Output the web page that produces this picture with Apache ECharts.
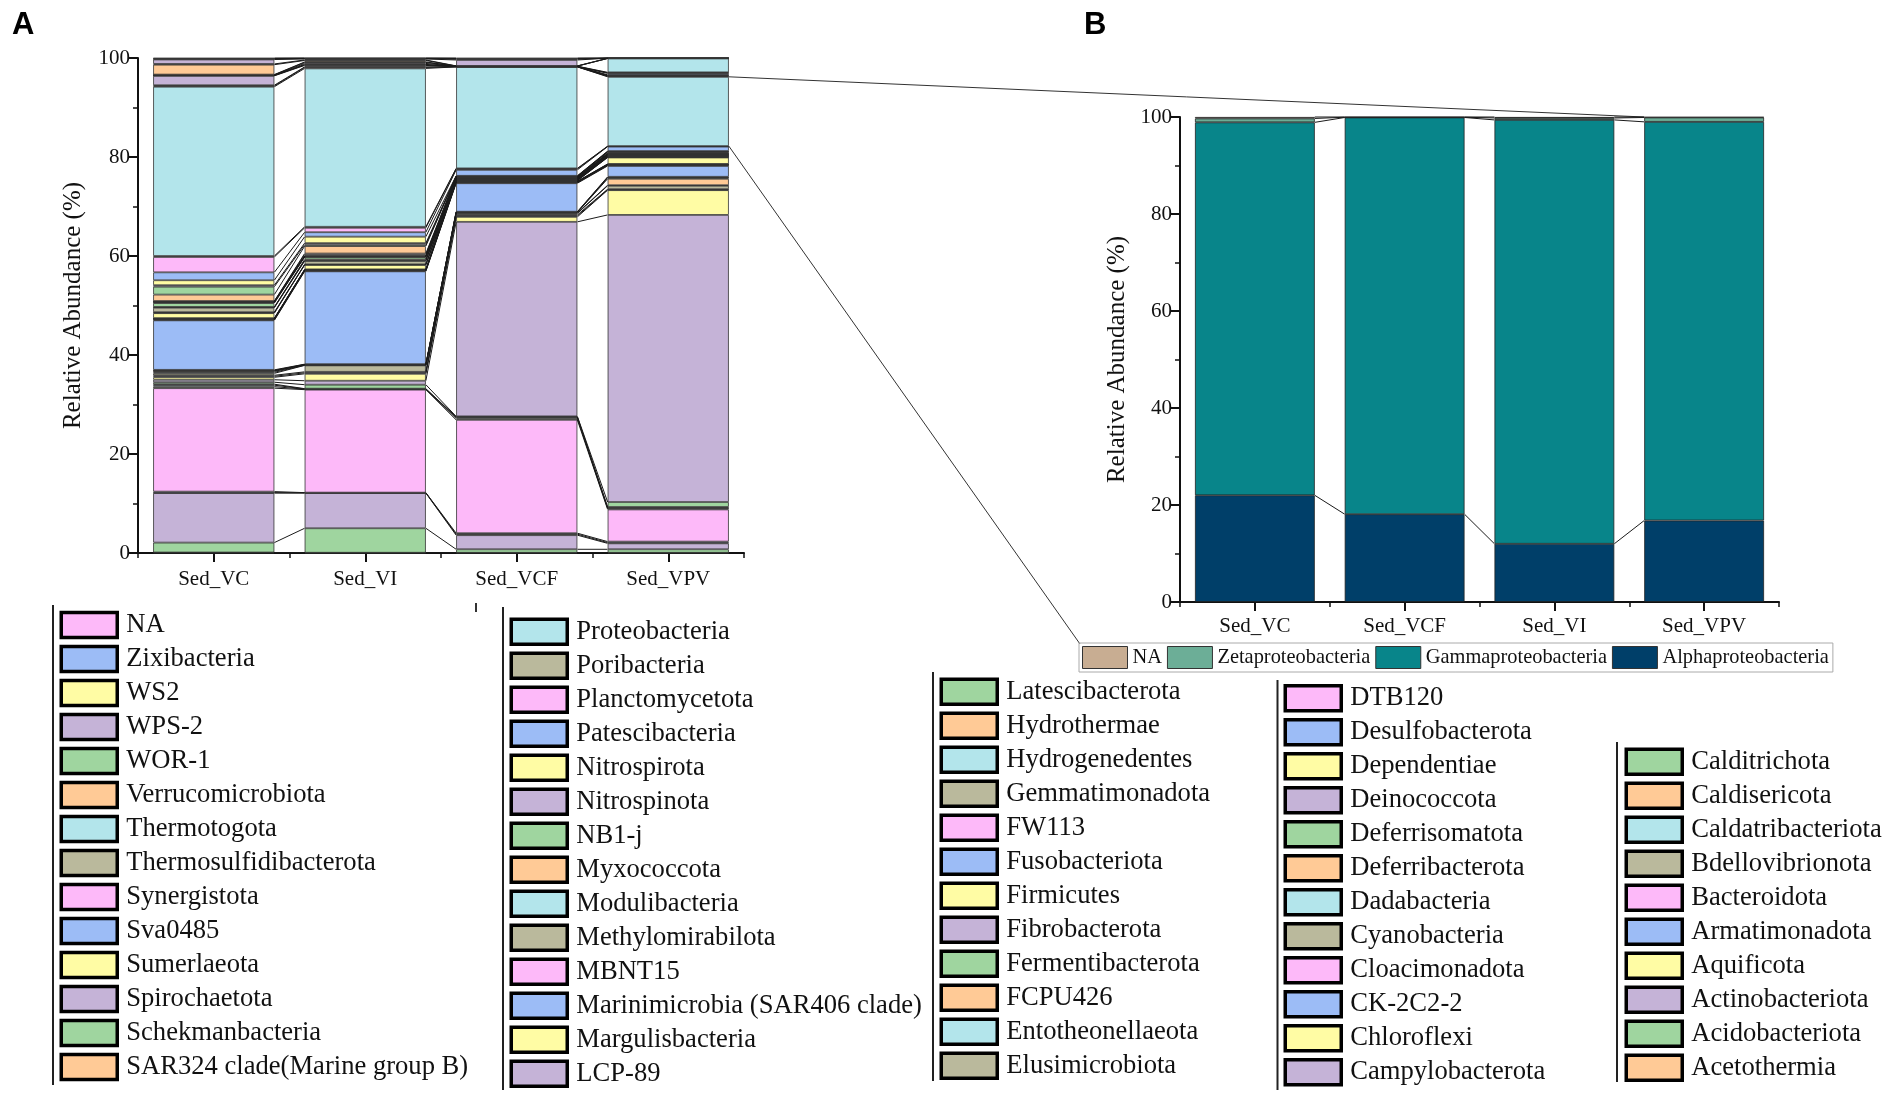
<!DOCTYPE html>
<html><head><meta charset="utf-8">
<script src="https://cdn.jsdelivr.net/npm/echarts@6/dist/echarts.min.js"></script>
<style>html,body{margin:0;padding:0;background:#fff}#c{width:1901px;height:1097px}</style>
</head><body><div id="c"></div>
<script>
// ---------- Panel A data (phyla, stacked bottom -> top) ----------
const categoriesA = ['Sed_VC', 'Sed_VI', 'Sed_VCF', 'Sed_VPV'];
const phyla = ['Acetothermia','Acidobacteriota','Actinobacteriota','Aquificota','Armatimonadota','Bacteroidota',
 'Bdellovibrionota','Caldatribacteriota','Caldisericota','Calditrichota','Campylobacterota','Chloroflexi','CK-2C2-2',
 'Cloacimonadota','Cyanobacteria','Dadabacteria','Deferribacterota','Deferrisomatota','Deinococcota','Dependentiae',
 'Desulfobacterota','DTB120','Elusimicrobiota','Entotheonellaeota','FCPU426','Fermentibacterota','Fibrobacterota',
 'Firmicutes','Fusobacteriota','FW113','Gemmatimonadota','Hydrogenedentes','Hydrothermae','Latescibacterota','LCP-89',
 'Margulisbacteria','Marinimicrobia (SAR406 clade)','MBNT15','Methylomirabilota','Modulibacteria','Myxococcota','NB1-j',
 'Nitrospinota','Nitrospirota','Patescibacteria','Planctomycetota','Poribacteria','Proteobacteria',
 'SAR324 clade(Marine group B)','Schekmanbacteria','Spirochaetota','Sumerlaeota','Sva0485','Synergistota',
 'Thermosulfidibacterota','Thermotogota','Verrucomicrobiota','WOR-1','WPS-2','WS2','Zixibacteria','NA'];
const valsVC = [0.1,2.0,10.0,0.1,0.2,20.9,0.3,0.3,0.2,0.4,0.5,0.5,0.2,0.2,0.4,0.2,0.2,0.1,0.1,0.1,
 10.0,0.1,0.1,0.1,0.05,0.05,0.05,1.0,0.1,0.1,0.9,0.1,0.05,0.8,0.1,0.1,0.05,0.05,0.05,0.05,
 1.3,1.6,0.3,1.0,1.6,3.1,0.2,34.2,0.15,0.15,1.9,0.05,0.05,0.05,0.05,0.05,2.0,0.15,0.9,0.1,0.1,0.1];
const valsVI = [0.05,4.95,7.1,0.05,0.05,20.8,0.1,0.05,0.05,0.8,0.8,1.4,0.2,0.2,1.3,0.05,0.05,0.05,0.05,0.05,
 18.75,0.1,0.1,0.05,0.05,0.05,0.05,0.9,0.05,0.05,0.7,0.1,0.2,0.5,0.05,0.05,0.05,0.05,0.3,0.2,
 1.5,0.3,0.3,1.3,0.9,0.9,0.2,32.0,0.2,0.1,0.3,0.1,0.1,0.2,0.2,0.1,0.3,0.1,0.2,0.1,0.05,0.05];
const valsVCF = [0.05,0.7,2.85,0.2,0.2,22.9,0.3,0.2,0.1,0.1,39.3,1.0,0.2,0.2,0.3,0.1,0.1,0.05,0.05,0.05,
 5.75,0.1,0.1,0.05,0.05,0.05,0.05,0.1,0.05,0.05,0.1,0.05,0.05,0.1,0.05,0.05,0.1,0.05,0.05,0.05,
 0.1,0.05,0.05,0.05,1.2,0.2,0.1,20.5,0.02,0.02,0.02,0.02,0.02,0.02,0.02,0.02,0.02,0.02,1.2,0.15,0.15,0.1];
const valsVPV = [0.05,0.7,1.2,0.15,0.2,6.5,0.2,0.1,0.2,1.0,58.0,5.0,0.1,0.1,0.7,0.1,1.3,0.2,0.1,0.1,
 2.2,0.1,0.1,0.05,0.05,0.05,0.05,1.3,0.05,0.05,0.1,0.05,0.1,0.1,0.05,0.05,0.1,0.05,0.1,0.05,
 0.2,0.1,0.05,0.1,0.9,0.05,0.05,14.0,0.1,0.1,0.1,0.1,0.3,0.1,0.1,2.8,0.02,0.02,0.02,0.02,0.01,0.01];

// Legend columns of panel A (as printed)
const legendCol1 = ['NA','Zixibacteria','WS2','WPS-2','WOR-1','Verrucomicrobiota','Thermotogota','Thermosulfidibacterota',
 'Synergistota','Sva0485','Sumerlaeota','Spirochaetota','Schekmanbacteria','SAR324 clade(Marine group B)'];
const legendCol2 = ['Proteobacteria','Poribacteria','Planctomycetota','Patescibacteria','Nitrospirota','Nitrospinota','NB1-j',
 'Myxococcota','Modulibacteria','Methylomirabilota','MBNT15','Marinimicrobia (SAR406 clade)','Margulisbacteria','LCP-89'];
const legendCol3 = ['Latescibacterota','Hydrothermae','Hydrogenedentes','Gemmatimonadota','FW113','Fusobacteriota','Firmicutes',
 'Fibrobacterota','Fermentibacterota','FCPU426','Entotheonellaeota','Elusimicrobiota'];
const legendCol4 = ['DTB120','Desulfobacterota','Dependentiae','Deinococcota','Deferrisomatota','Deferribacterota','Dadabacteria',
 'Cyanobacteria','Cloacimonadota','CK-2C2-2','Chloroflexi','Campylobacterota'];
const legendCol5 = ['Calditrichota','Caldisericota','Caldatribacteriota','Bdellovibrionota','Bacteroidota','Armatimonadota',
 'Aquificota','Actinobacteriota','Acidobacteriota','Acetothermia'];

// ---------- Panel B data (Proteobacteria classes) ----------
const categoriesB = ['Sed_VC', 'Sed_VCF', 'Sed_VI', 'Sed_VPV'];
const classesB = ['Alphaproteobacteria', 'Gammaproteobacteria', 'Zetaproteobacteria', 'NA'];
const alphaB = [22.0, 18.1, 12.0, 16.8];
const gammaB = [76.9, 81.8, 87.4, 82.2];
const zetaB = [0.8, 0.05, 0.4, 0.9];
const naB = [0.3, 0.05, 0.2, 0.1];

// ---------- styles ----------
const paletteA = ['#FDB9F9', '#9CBCF6', '#FFFCA4', '#C5B3D7', '#9FD59F', '#FFCA96', '#B3E5EB', '#BAB99C'];
const colorsB = ['#003F69', '#08858A', '#6CAE97', '#C8AD92'];
const SERIF = 'Liberation Serif';

const samplesA = [valsVC, valsVI, valsVCF, valsVPV];
const levelValsA = phyla.map((n, k) => samplesA.map(s => s[k]));
const levelValsB = [alphaB, gammaB, zetaB, naB];

function cumulative(levels) {
  const n = levels[0].length; let run = new Array(n).fill(0); const out = [];
  levels.forEach(v => { run = run.map((r, i) => r + v[i]); out.push(run.slice()); });
  return out;
}
const cumA = cumulative(levelValsA);
const cumB = cumulative(levelValsB);

function connector(cum) {
  return function (params, api) {
    const i = api.value(0);
    const hw = api.size([1, 0])[0] * 0.4;
    const children = cum.map(c => {
      const p1 = api.coord([i, c[i]]), p2 = api.coord([i + 1, c[i + 1]]);
      return { type: 'line', shape: { x1: p1[0] + hw, y1: p1[1], x2: p2[0] - hw, y2: p2[1] },
        style: { stroke: '#1a1a1a', lineWidth: 1 } };
    });
    return { type: 'group', children };
  };
}

function yAxisCfg(gridIndex, nameGap) {
  return {
    type: 'value', gridIndex, min: 0, max: 100, interval: 20,
    name: 'Relative Abundance (%)', nameLocation: 'middle', nameGap,
    nameTextStyle: { fontFamily: SERIF, fontSize: 25, color: '#111' },
    axisLine: { show: true, lineStyle: { color: '#111', width: 2 } },
    axisTick: { show: true, length: 9, lineStyle: { color: '#111', width: 2 } },
    minorTick: { show: true, splitNumber: 2, length: 5, lineStyle: { color: '#111', width: 1.5 } },
    splitLine: { show: false },
    axisLabel: { fontFamily: SERIF, fontSize: 21, color: '#111', margin: 8 }
  };
}
function xAxisCfg(gridIndex, data, margin) {
  return {
    type: 'category', gridIndex, data, position: 'bottom',
    axisLine: { show: true, lineStyle: { color: '#111', width: 2 } },
    axisTick: { show: true, alignWithLabel: true, length: 9, lineStyle: { color: '#111', width: 2 } },
    axisLabel: { fontFamily: SERIF, fontSize: 21, color: '#111', margin }
  };
}
function xMinorCfg(gridIndex, data) {
  return {
    type: 'category', gridIndex, data, position: 'bottom', boundaryGap: true,
    axisLine: { show: false },
    axisTick: { show: true, interval: 0, length: 5, lineStyle: { color: '#111', width: 1.5 } },
    axisLabel: { show: false }
  };
}
function legendCol(names, left, top) {
  return {
    data: names, orient: 'vertical', left, top, height: 560, padding: 0, icon: 'rect', selectedMode: false,
    itemWidth: 56, itemHeight: 25, itemGap: 5.5,
    itemStyle: { borderColor: '#000', borderWidth: 3.5 },
    textStyle: { fontFamily: SERIF, fontSize: 26.6, color: '#111', lineHeight: 24, padding: [0, 0, 0, 4] }
  };
}

const series = [];
phyla.forEach((name, k) => {
  series.push({
    type: 'bar', name, stack: 'A', xAxisIndex: 0, yAxisIndex: 0, barWidth: '80%',
    itemStyle: { color: paletteA[(phyla.length - 1 - k) % 8], borderColor: '#333', borderWidth: 0.8 },
    data: levelValsA[k]
  });
});
series.push({ type: 'custom', xAxisIndex: 0, yAxisIndex: 0, z: 5, silent: true,
  renderItem: connector(cumA), encode: { x: 0, y: 1 }, data: [[0, 0], [1, 0], [2, 0]] });
classesB.forEach((name, k) => {
  series.push({
    type: 'bar', name: name === 'NA' ? 'NA (B)' : name, stack: 'B', xAxisIndex: 2, yAxisIndex: 1, barWidth: '80%',
    itemStyle: { color: colorsB[k], borderColor: '#222', borderWidth: 0.8 },
    data: levelValsB[k]
  });
});
series.push({ type: 'custom', xAxisIndex: 2, yAxisIndex: 1, z: 5, silent: true,
  renderItem: connector(cumB), encode: { x: 0, y: 1 }, data: [[0, 0], [1, 0], [2, 0]] });

const legendLines = [[53, 605, 1085], [503, 607, 1090], [933, 672, 1081], [1277.5, 680, 1090], [1617, 742, 1082]];
const baseGraphic = [
  { type: 'text', left: 12, top: 10, style: { text: 'A', font: 'bold 31px "Liberation Sans"', fill: '#000' } },
  { type: 'text', left: 1084, top: 10, style: { text: 'B', font: 'bold 31px "Liberation Sans"', fill: '#000' } },
  { type: 'line', shape: { x1: 476, y1: 603, x2: 476, y2: 612 }, style: { stroke: '#333', lineWidth: 2 } }
].concat(legendLines.map(l => ({ type: 'line', shape: { x1: l[0], y1: l[1], x2: l[0], y2: l[2] },
  style: { stroke: '#222', lineWidth: 2 } })));

const chart = echarts.init(document.getElementById('c'), null, { renderer: 'canvas' });
const option = {
  backgroundColor: '#fff',
  animation: false,
  grid: [
    { left: 138, top: 58, width: 606, height: 495 },
    { left: 1180, top: 117, width: 599, height: 485 }
  ],
  xAxis: [xAxisCfg(0, categoriesA, 16), xMinorCfg(0, categoriesA), xAxisCfg(1, categoriesB, 14), xMinorCfg(1, categoriesB)],
  yAxis: [yAxisCfg(0, 52), yAxisCfg(1, 50)],
  legend: [
    legendCol(legendCol1, 59.5, 610.8),
    legendCol(legendCol2, 509.5, 617.5),
    legendCol(legendCol3, 939.5, 677.5),
    legendCol(legendCol4, 1283.5, 684),
    legendCol(legendCol5, 1624.5, 747.5),
    {
      data: ['NA (B)', 'Zetaproteobacteria', 'Gammaproteobacteria', 'Alphaproteobacteria'],
      formatter: n => n.replace(' (B)', ''),
      orient: 'horizontal', left: 1079, top: 643, padding: [3, 4, 3, 3], icon: 'rect', selectedMode: false,
      itemWidth: 45, itemHeight: 22, itemGap: 5, borderColor: '#aaa', borderWidth: 1,
      itemStyle: { borderColor: '#333', borderWidth: 1 },
      textStyle: { fontFamily: SERIF, fontSize: 20.4, color: '#111', lineHeight: 20 }
    }
  ],
  graphic: baseGraphic,
  series
};
chart.setOption(option);

// Zoom lines linking A (Proteobacteria in Sed_VPV) to panel B
const k = phyla.indexOf('Proteobacteria');
const proTop = cumA[k][3], proBot = cumA[k - 1][3];
const bandA = chart.convertToPixel({ xAxisIndex: 0, yAxisIndex: 0 }, [1, 0])[0] - chart.convertToPixel({ xAxisIndex: 0, yAxisIndex: 0 }, [0, 0])[0];
const bandB = chart.convertToPixel({ xAxisIndex: 2, yAxisIndex: 1 }, [1, 0])[0] - chart.convertToPixel({ xAxisIndex: 2, yAxisIndex: 1 }, [0, 0])[0];
const pTop = chart.convertToPixel({ xAxisIndex: 0, yAxisIndex: 0 }, [3, proTop]);
const pBot = chart.convertToPixel({ xAxisIndex: 0, yAxisIndex: 0 }, [3, proBot]);
const qTop = chart.convertToPixel({ xAxisIndex: 2, yAxisIndex: 1 }, [3, 100]);
const xA = pTop[0] + bandA * 0.4, xB = qTop[0] - bandB * 0.4;
chart.setOption({
  graphic: baseGraphic.concat([
    { type: 'line', shape: { x1: xA, y1: pTop[1], x2: xB, y2: qTop[1] }, style: { stroke: '#333', lineWidth: 1 } },
    { type: 'line', shape: { x1: xA, y1: pBot[1], x2: 1080, y2: 644 }, style: { stroke: '#333', lineWidth: 1 } }
  ])
});
</script>
</body></html>
